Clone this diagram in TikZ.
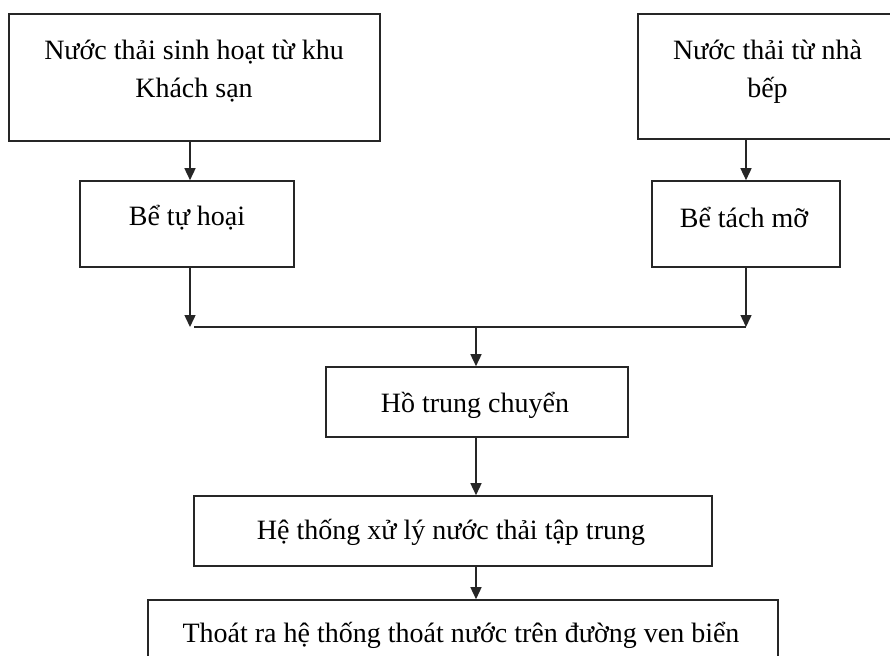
\documentclass[tikz,border=0pt]{standalone}
\usepackage{fontspec}
\setmainfont{Liberation Serif}
\usetikzlibrary{arrows.meta,calc}
\begin{document}
\begin{tikzpicture}[x=1pt,y=-1pt,
  box/.style={draw=black!85,line width=1.6pt,rectangle,inner sep=0pt},
  txt/.style={font=\fontsize{28}{38}\selectfont,inner sep=0pt,align=center,text=black},
  arr/.style={draw=black!85,line width=1.5pt,-{Triangle[length=12pt,width=11pt]}},
  ln/.style={draw=black!85,line width=1.5pt}]
\useasboundingbox (0,0) rectangle (890,655);
\clip (0,0) rectangle (890,655);
% boxes
\node[box,minimum width=371pt,minimum height=127pt] (b1) at (194.5,77.5) {};
\node[box,minimum width=214pt,minimum height=86pt] (b2) at (187,224) {};
\node[box,minimum width=262pt,minimum height=125pt] (b3) at (769,76.5) {};
\node[box,minimum width=188pt,minimum height=86pt] (b4) at (746,224) {};
\node[box,minimum width=302pt,minimum height=70pt] (b5) at (477,402) {};
\node[box,minimum width=518pt,minimum height=70pt] (b6) at (453,531) {};
\node[box,minimum width=630pt,minimum height=80pt] (b7) at (463,640) {};
% texts
\node[txt,anchor=base] (t1a) at (194,60) {Nước thải sinh hoạt từ khu};
\node[txt,anchor=base] (t1b) at (194,98) {Khách sạn};
\node[txt,anchor=base] (t2) at (187,225) {Bể tự hoại};
\node[txt,anchor=base] (t3a) at (767.5,60) {Nước thải từ nhà};
\node[txt,anchor=base] (t3b) at (767.5,98) {bếp};
\node[txt,anchor=base] (t4) at (744,227) {Bể tách mỡ};
\node[txt,anchor=base] (t5) at (475,412) {Hồ trung chuyển};
\node[txt,anchor=base] (t6) at (451,539) {Hệ thống xử lý nước thải tập trung};
\node[txt,anchor=base] (t7) at (461,642) {Thoát ra hệ thống thoát nước trên đường ven biển};
% junction points
\coordinate (jL) at (190,327);
\coordinate (jR) at (746,327);
\coordinate (jC) at (476,327);
% connectors
\draw[arr] (b1.south -| jL) -- (b2.north -| jL);
\draw[arr] (b2.south -| jL) -- (jL);
\draw[arr] (b3.south -| jR) -- (b4.north -| jR);
\draw[arr] (b4.south -| jR) -- (jR);
\draw[ln] ([xshift=4pt]jL) -- (jR);
\draw[arr] (jC) -- (b5.north -| jC);
\draw[arr] (b5.south -| jC) -- (b6.north -| jC);
\draw[arr] (b6.south -| jC) -- (b7.north -| jC);
\end{tikzpicture}
\end{document}
